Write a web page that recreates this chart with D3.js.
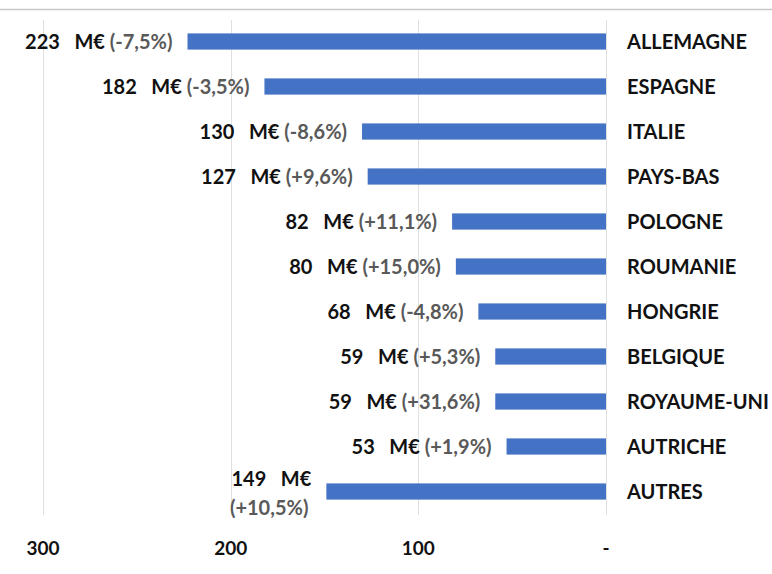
<!DOCTYPE html>
<html><head><meta charset="utf-8">
<script src="https://cdn.jsdelivr.net/npm/d3@7"></script>
<style>body{margin:0;background:#fff}svg{display:block}text{font-family:Lato,"Open Sans",sans-serif;font-weight:bold}</style>
</head><body>
<svg id="c" width="772" height="574"></svg>
<script>
const countries = ["ALLEMAGNE","ESPAGNE","ITALIE","PAYS-BAS","POLOGNE","ROUMANIE","HONGRIE","BELGIQUE","ROYAUME-UNI","AUTRICHE","AUTRES"];
const values = [223,182,130,127,82,80,68,59,59,53,149];
const changes = ["-7,5%","-3,5%","-8,6%","+9,6%","+11,1%","+15,0%","-4,8%","+5,3%","+31,6%","+1,9%","+10,5%"];
const ticks = [300,200,100,0];
const tickLabels = ["300","200","100","-"];

const svg = d3.select("#c");
const x = d3.scaleLinear().domain([0,300]).range([606,43]);
const y = d3.scaleBand().domain(countries).range([19,514]).paddingInner(0.64).paddingOuter(0.32);
const FS = 20;

svg.append("line").attr("x1",0).attr("x2",772).attr("y1",9.5).attr("y2",9.5).attr("stroke","#c8c8c8").attr("stroke-width",1.5);

svg.append("g").selectAll("line").data(ticks).join("line")
  .attr("x1",d=>Math.round(x(d))+0.5).attr("x2",d=>Math.round(x(d))+0.5)
  .attr("y1",20).attr("y2",515).attr("stroke","#e0e0e0").attr("stroke-width",1);

svg.append("g").selectAll("rect").data(countries).join("rect")
  .attr("x",(d,i)=>x(values[i])).attr("width",(d,i)=>x(0)-x(values[i]))
  .attr("y",d=>y(d)).attr("height",y.bandwidth()).attr("fill","#4472c4");

svg.append("g").selectAll("text").data(countries).join("text")
  .attr("x",627).attr("y",d=>y(d)+y.bandwidth()/2).attr("dy","0.35em")
  .attr("font-size",FS).attr("fill","#111").text(d=>d);

const lab = svg.append("g");
countries.forEach((c,i)=>{
  const xr = x(values[i]) - 15;
  const cy = y(c)+y.bandwidth()/2;
  if (c === "AUTRES") {
    lab.append("text").attr("x",xr).attr("y",cy-13).attr("dy","0.35em").attr("text-anchor","end").attr("font-size",FS)
      .attr("fill","#111").text(values[i]+"\u00a0\u00a0\u00a0M€");
    lab.append("text").attr("x",xr-3).attr("y",cy+16).attr("dy","0.35em").attr("text-anchor","end").attr("font-size",FS)
      .attr("fill","#595959").text("("+changes[i]+")");
  } else {
    const t = lab.append("text").attr("x",xr).attr("y",cy).attr("dy","0.35em").attr("text-anchor","end").attr("font-size",FS);
    t.append("tspan").attr("fill","#111").text(values[i]+"\u00a0\u00a0\u00a0M€ ");
    t.append("tspan").attr("fill","#595959").text("("+changes[i]+")");
  }
});

svg.append("g").selectAll("text").data(ticks).join("text")
  .attr("x",d=>x(d)).attr("y",548).attr("dy","0.35em").attr("text-anchor","middle")
  .attr("font-size",19).attr("fill","#111").text((d,i)=>tickLabels[i]);
</script>
</body></html>
